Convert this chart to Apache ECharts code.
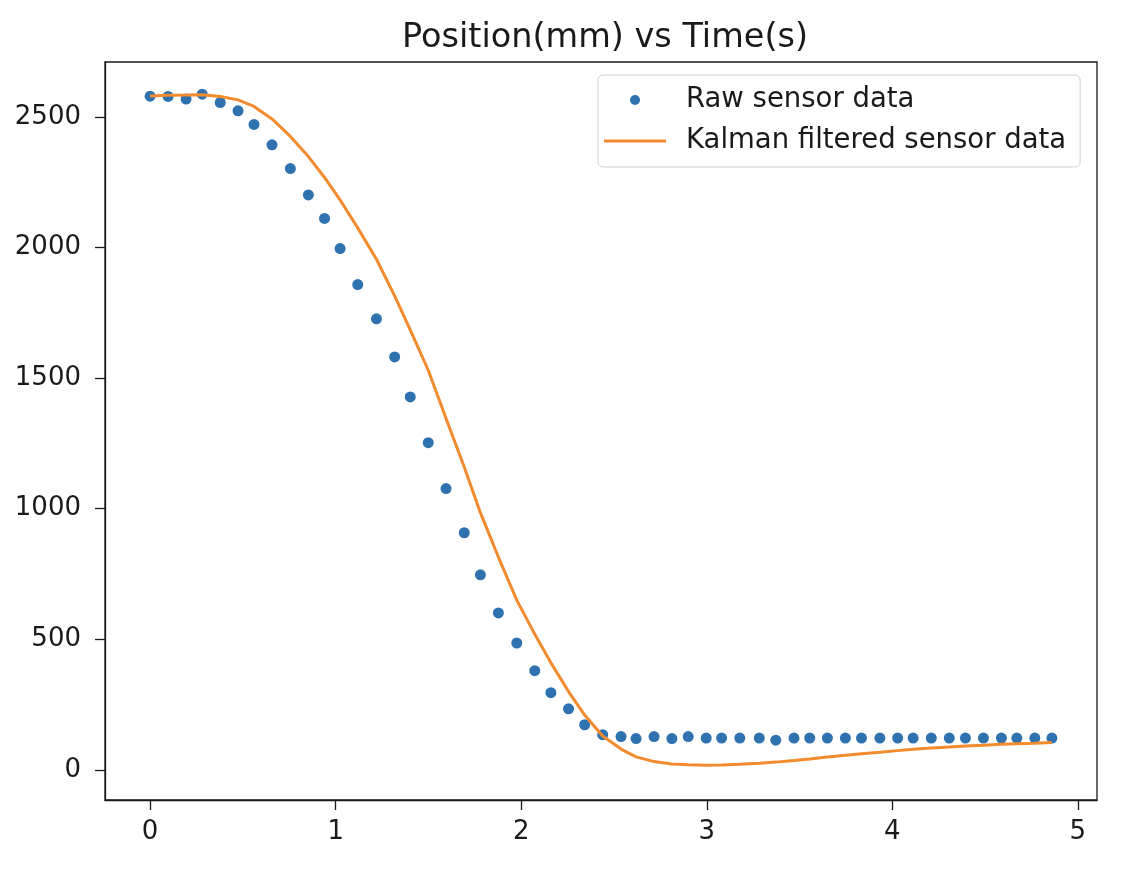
<!DOCTYPE html>
<html>
<head>
<meta charset="utf-8">
<script src="https://cdn.jsdelivr.net/npm/echarts@6/dist/echarts.min.js"></script>
<style>
html,body{margin:0;padding:0;background:#fff;}
#chart{width:1130px;height:880px;}
</style>
</head>
<body>
<div id="chart"></div>
<script>
const chartTitle = 'Position(mm) vs Time(s)';
const seriesNames = ['Raw sensor data', 'Kalman filtered sensor data'];
const times = [0, 0.097, 0.194, 0.281, 0.378, 0.474, 0.560, 0.657, 0.756, 0.853,
  0.940, 1.024, 1.119, 1.220, 1.318, 1.402, 1.499, 1.595, 1.693, 1.780,
  1.877, 1.976, 2.073, 2.160, 2.255, 2.342, 2.439, 2.538, 2.619, 2.716,
  2.812, 2.900, 2.997, 3.080, 3.178, 3.283, 3.372, 3.470, 3.555, 3.650,
  3.747, 3.834, 3.933, 4.029, 4.112, 4.210, 4.307, 4.394, 4.491, 4.588,
  4.671, 4.768, 4.860];
const rawValues = [2579, 2578, 2568, 2587, 2555, 2523, 2471, 2393, 2302, 2201,
  2111, 1996, 1858, 1727, 1581, 1428, 1253, 1077, 908, 747,
  601, 486, 380, 296, 234, 173, 135, 128, 120, 128,
  120, 128, 122, 122, 122, 122, 114, 122, 122, 122,
  122, 122, 122, 122, 122, 122, 122, 122, 122, 122,
  122, 122, 122];
const kalmanValues = [2580, 2583, 2584, 2585, 2578, 2565, 2540, 2492, 2425, 2348,
  2268, 2182, 2075, 1955, 1815, 1685, 1530, 1345, 1160, 985,
  815, 650, 520, 410, 300, 210, 130, 80, 50, 32,
  23, 20, 18, 19, 22, 26, 30, 36, 42, 50,
  56, 62, 68, 74, 79, 84, 88, 92, 95, 98,
  100, 102, 105];
const xTicks = [0, 1, 2, 3, 4, 5];
const yTicks = [0, 500, 1000, 1500, 2000, 2500];

const rawData = times.map((t, i) => [t, rawValues[i]]);
const kalmanData = times.map((t, i) => [t, kalmanValues[i]]);

const FONT = 'DejaVu Sans';
const INK = '#1a1a1a';
const chart = echarts.init(document.getElementById('chart'), null, {renderer: 'canvas'});
const axisCommon = {
  axisLine: {show: true, onZero: false, lineStyle: {color: INK, width: 1.3}},
  axisTick: {show: true, inside: false, length: 10, lineStyle: {color: INK, width: 1.3}},
  splitLine: {show: false},
  axisLabel: {color: INK, fontFamily: FONT, fontSize: 26, formatter: v => String(v)}
};
chart.setOption({
  animation: false,
  backgroundColor: '#fff',
  title: {
    text: chartTitle,
    left: 397, top: 16,
    textStyle: {fontFamily: FONT, fontSize: 33.5, fontWeight: 'normal', color: INK}
  },
  grid: {left: 105, right: 33, top: 62, bottom: 80, show: true, borderColor: INK, borderWidth: 1.3, containLabel: false},
  legend: {
    orient: 'vertical',
    left: 598, top: 75,
    padding: [10, 14, 11, 6],
    itemWidth: 62, itemHeight: 10,
    itemGap: 11,
    backgroundColor: 'rgba(255,255,255,0.8)',
    borderColor: '#d0d0d0', borderWidth: 1, borderRadius: 5,
    textStyle: {fontFamily: FONT, fontSize: 27.5, color: INK, lineHeight: 30, padding: [0, 0, 0, 15]},
    data: [
      {name: seriesNames[0], icon: 'circle', itemStyle: {color: '#2f72b0', opacity: 1}},
      {name: seriesNames[1], icon: 'path://M0,0L62,0L62,3L0,3Z', itemStyle: {color: '#f28a2e'}}
    ]
  },
  xAxis: Object.assign({}, axisCommon, {
    type: 'value', min: -0.243, max: 5.103,
    axisTick: Object.assign({}, axisCommon.axisTick, {customValues: xTicks}),
    axisLabel: Object.assign({}, axisCommon.axisLabel, {customValues: xTicks, margin: 19})
  }),
  yAxis: Object.assign({}, axisCommon, {
    type: 'value', min: -115, max: 2710,
    axisTick: Object.assign({}, axisCommon.axisTick, {customValues: yTicks}),
    axisLabel: Object.assign({}, axisCommon.axisLabel, {customValues: yTicks, margin: 24})
  }),
  series: [
    {
      name: seriesNames[0], type: 'scatter', data: rawData,
      symbol: 'circle', symbolSize: 11,
      itemStyle: {color: '#2f72b0', opacity: 1}, z: 2
    },
    {
      name: seriesNames[1], type: 'line', data: kalmanData,
      showSymbol: false, symbol: 'none', smooth: false,
      lineStyle: {color: '#f28a2e', width: 3},
      itemStyle: {color: '#f28a2e'}, z: 3
    }
  ]
});
</script>
</body>
</html>
